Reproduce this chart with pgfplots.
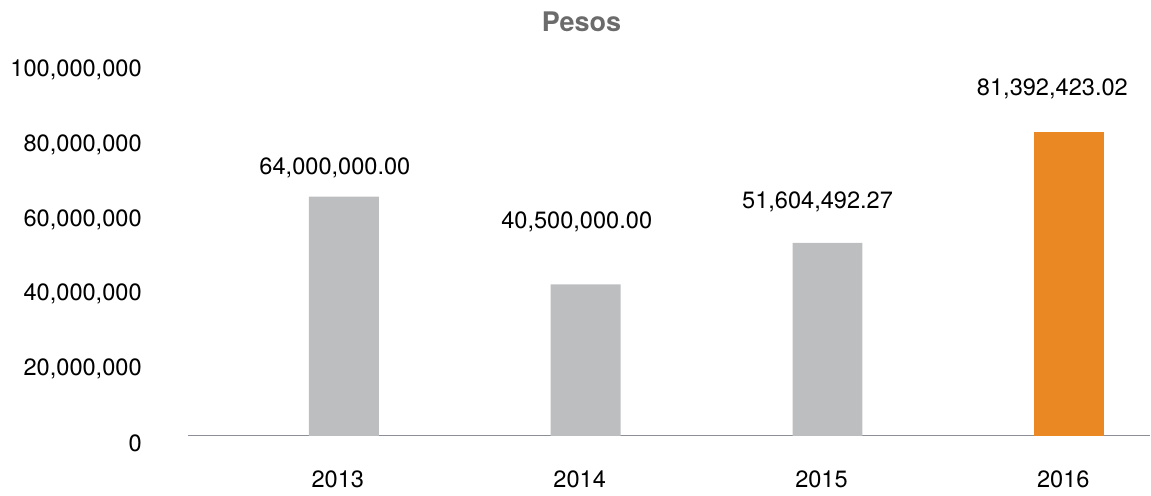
\documentclass[border=0pt]{standalone}
\usepackage{pgfplots}
\pgfplotsset{compat=1.18}
\usepackage{fontspec}
\setmainfont{TeX Gyre Heros}
\definecolor{barGray}{HTML}{BDBEC0}
\definecolor{barOrange}{HTML}{EA8823}
\definecolor{axisGray}{HTML}{8C9096}
\definecolor{titleGray}{HTML}{6B6B6B}
\begin{document}
\fontsize{11.8}{14}\selectfont
\begin{tikzpicture}
\begin{axis}[
    scale only axis,
    width=481.5pt, height=187pt,
    xmin=-0.645, xmax=3.335,
    ymin=0, ymax=100000000,
    clip=false,
    scaled y ticks=false,
    axis x line*=bottom,
    axis y line*=left,
    y axis line style={draw=none},
    x axis line style={draw=axisGray, line width=0.7pt, -},
    major tick length=0pt,
    xtick={0,1,2,3},
    xticklabels={2013,2014,2015,2016},
    xticklabel style={xshift=-3pt, yshift=-13.5pt, font=\fontsize{11.8}{14}\selectfont},
    ytick={0,20000000,40000000,60000000,80000000,100000000},
    yticklabels={0,{20,000,000},{40,000,000},{60,000,000},{80,000,000},{100,000,000}},
    yticklabel style={anchor=east, xshift=-19pt, yshift=-4pt, font=\fontsize{11.8}{14}\selectfont},
    title={Pesos},
    title style={at={(0.409,1)}, anchor=center, yshift=14pt, text=titleGray, font=\bfseries\fontsize{13.5}{16}\selectfont},
]
% bars
\addplot[ybar, bar width=35pt, bar shift=0pt, fill=barGray, draw=none]
    coordinates {(0,64000000)(1,40500000)(2,51604492.27)};
\addplot[ybar, bar width=35pt, bar shift=0pt, fill=barOrange, draw=none]
    coordinates {(3,81392423.02)};
% value labels
\node at (axis cs:-0.037,71800000) {64,000,000.00};
\node at (axis cs:0.963,57100000) {40,500,000.00};
\node at (axis cs:1.959,62500000) {51,604,492.27};
\node at (axis cs:2.930,92700000) {81,392,423.02};
% page size
\path (rel axis cs:-0.1952,-0.147) rectangle (rel axis cs:1,1.1658);
\end{axis}
\end{tikzpicture}
\end{document}
